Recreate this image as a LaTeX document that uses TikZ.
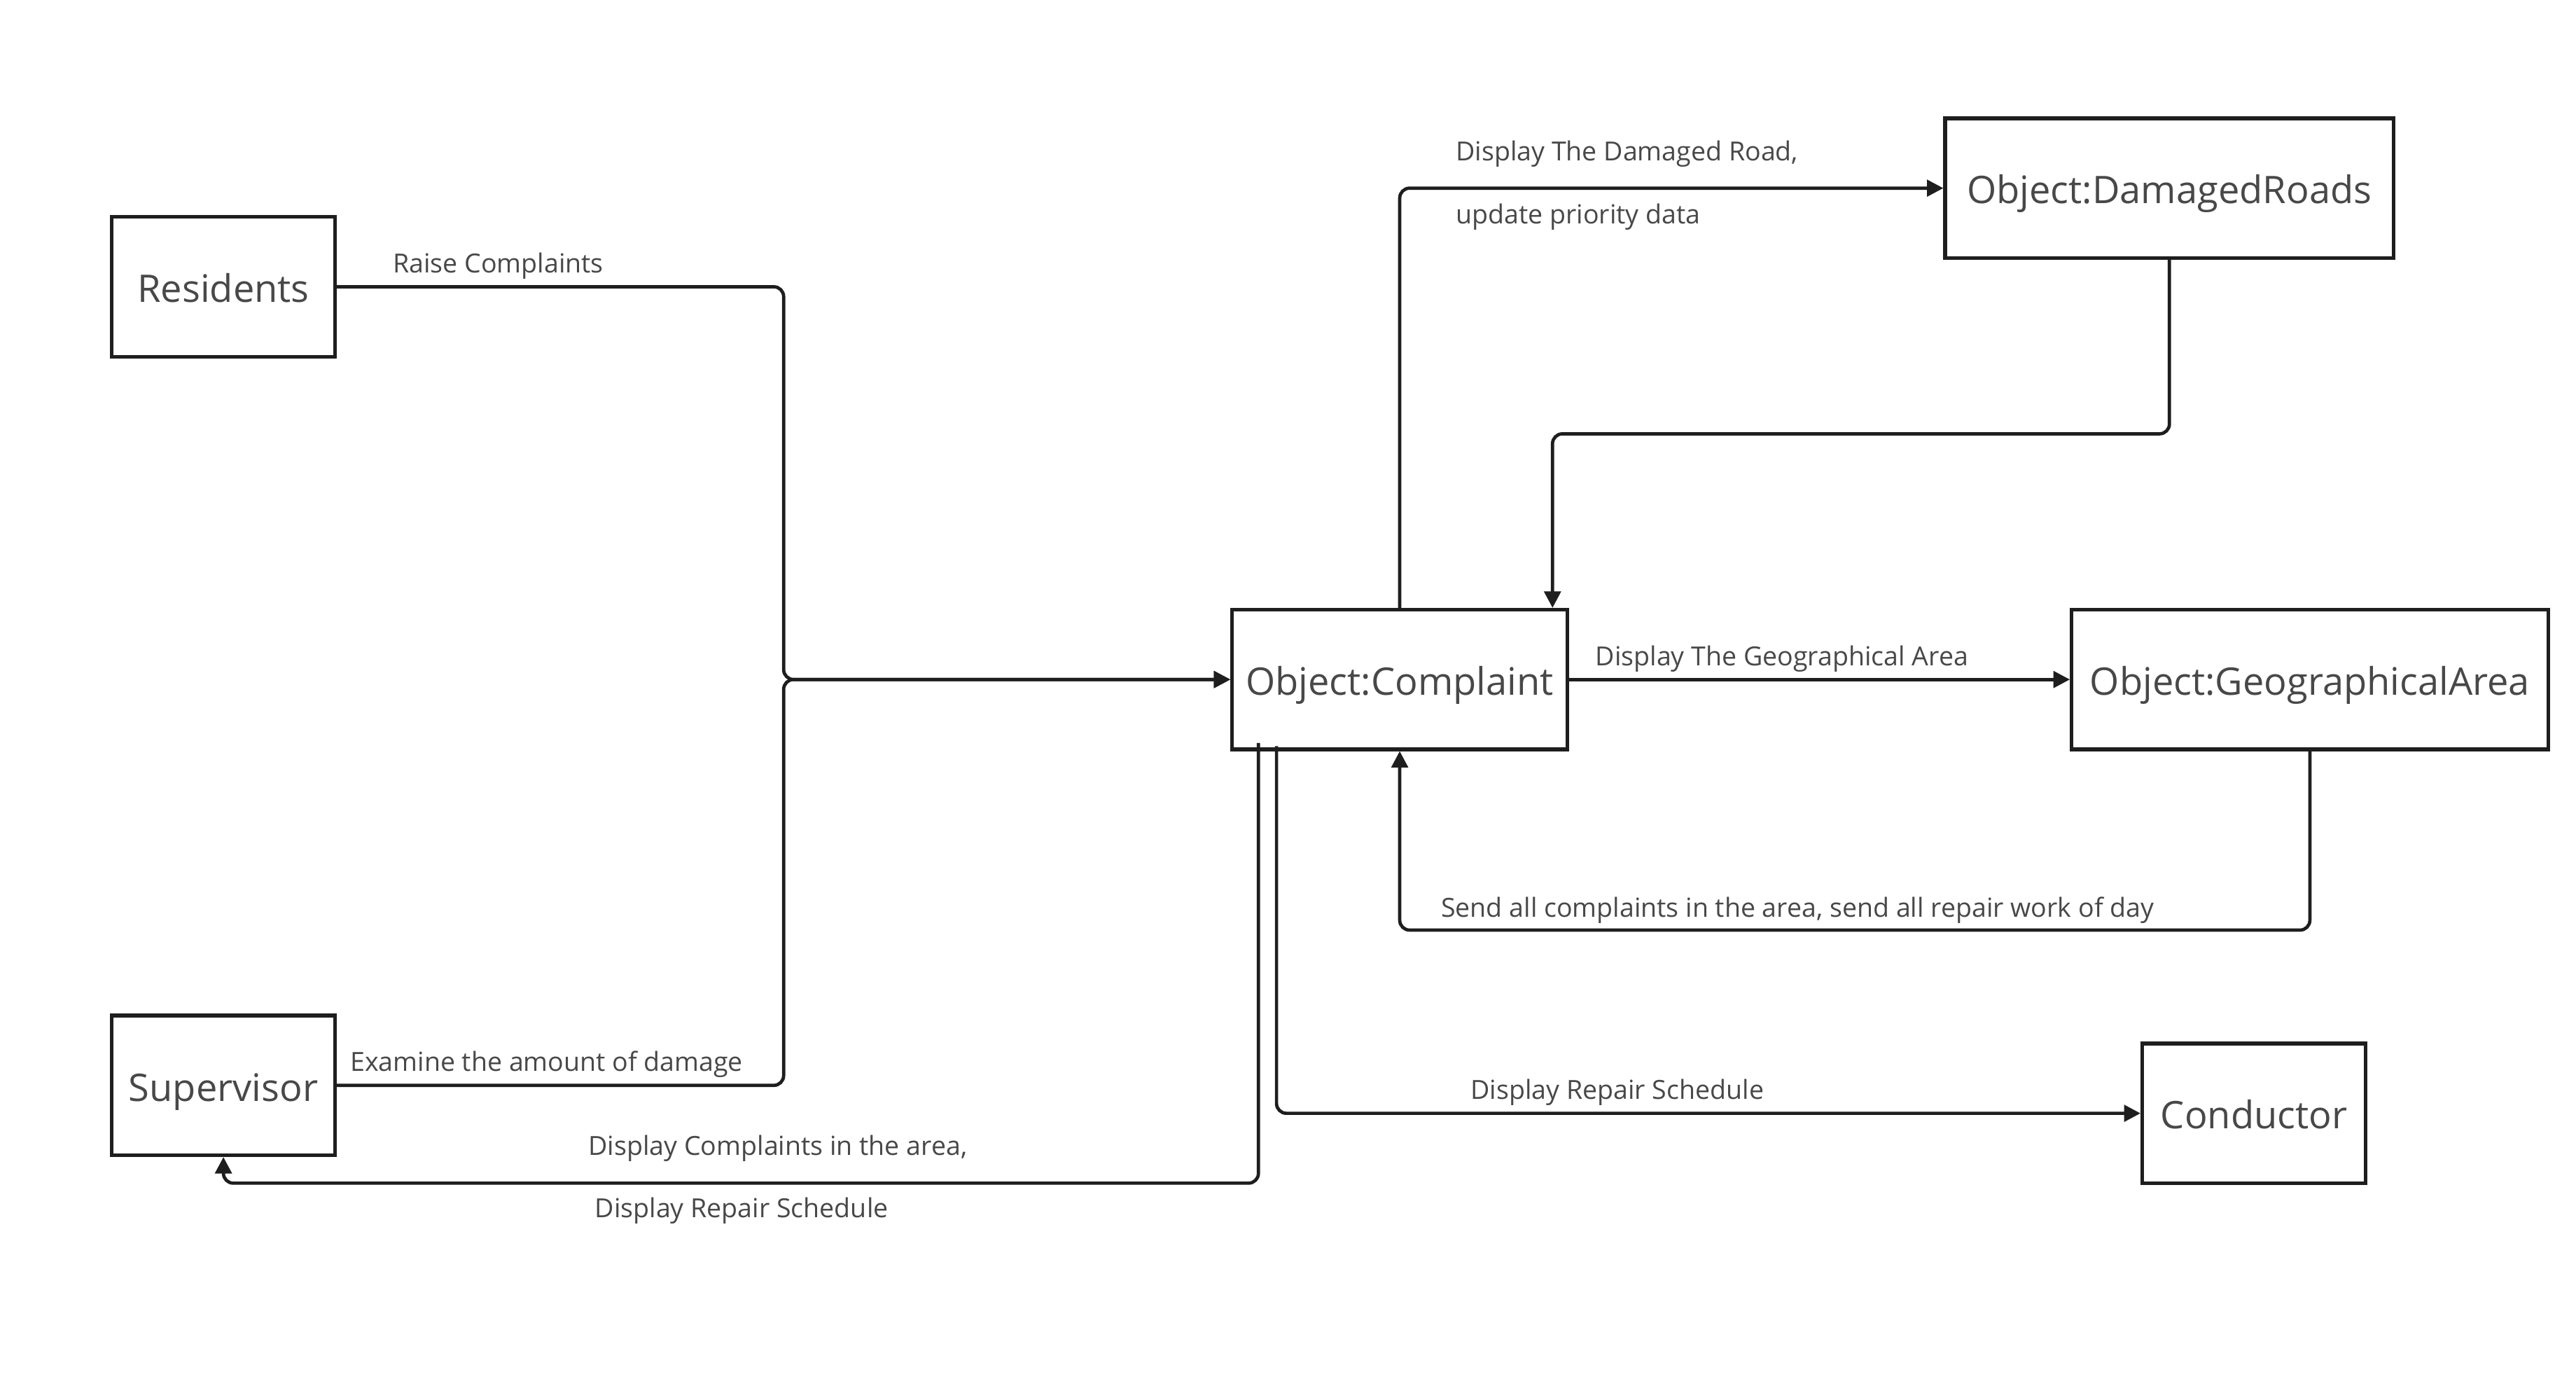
\documentclass[tikz,border=0pt]{standalone}
\usepackage{fontspec}
\setmainfont{Open Sans}
\usetikzlibrary{arrows.meta}
\definecolor{ln}{RGB}{30,30,30}
\definecolor{tx}{RGB}{72,72,72}
\begin{document}
\begin{tikzpicture}[x=1pt,y=-1pt,
  obj/.style={draw=ln, line width=2.2pt, minimum width=#1, minimum height=85pt,
    inner sep=0pt, text=tx, font=\fontsize{23.1}{27}\selectfont,
    text height=19pt, text depth=0pt},
  conn/.style={draw=ln, line width=2pt, rounded corners=6pt},
  arr/.style={-{Triangle[length=10pt,width=10pt]}},
  lbl/.style={anchor=base west, inner sep=0pt, text=tx, font=\fontsize{16}{18}\selectfont}]
\fill[white] (0,0) rectangle (1568,839);
\useasboundingbox (0,0) rectangle (1568,839);

\node[obj=136pt] (res) at (136,174.5) {Residents};
\node[obj=136pt] (sup) at (136,660.5) {Supervisor};
\node[obj=204pt] (cmp) at (852,413.5) {Object:Complaint};
\node[obj=273pt] (dr) at (1320.5,114.5) {Object:DamagedRoads};
\node[obj=290pt] (ga) at (1406,413.5) {Object:GeographicalArea};
\node[obj=136pt] (con) at (1372,677.5) {Conductor};

\coordinate (jx) at (477,413.5);
\coordinate (c4) at (945,264);
\coordinate (c6) at (852,566);
\coordinate (c8) at (136,720);

\draw[conn,arr] (res.east) -| (jx) -- (cmp.west);
\draw[conn,arr] (sup.east) -| (jx) -- (cmp.west);
\draw[conn,arr] (cmp.north) |- (dr.west);
\draw[conn,arr] (dr.south) |- (c4) -- ([xshift=93pt]cmp.north);
\draw[conn,arr] (cmp.east) -- (ga.west);
\draw[conn,arr] (ga.south) |- (c6) -- (cmp.south);
\draw[conn,arr] ([xshift=-75pt,yshift=3pt]cmp.south) |- (con.west);
\draw[conn,arr] ([xshift=-86pt,yshift=5pt]cmp.south) |- (c8) -- (sup.south);

\node[lbl] (l1) at (239,166) {Raise Complaints};
\node[lbl] (l2) at (213,652) {Examine the amount of damage};
\node[lbl] (l3) at (886,98) {Display The Damaged Road,};
\node[lbl] (l4) at (886,136) {update priority data};
\node[lbl] (l5) at (971,405) {Display The Geographical Area};
\node[lbl] (l6) at (877,558) {Send all complaints in the area, send all repair work of day};
\node[lbl] (l7) at (895,669) {Display Repair Schedule};
\node[lbl] (l8) at (358,703) {Display Complaints in the area,};
\node[lbl] (l9) at (362,741) {Display Repair Schedule};
\end{tikzpicture}
\end{document}
